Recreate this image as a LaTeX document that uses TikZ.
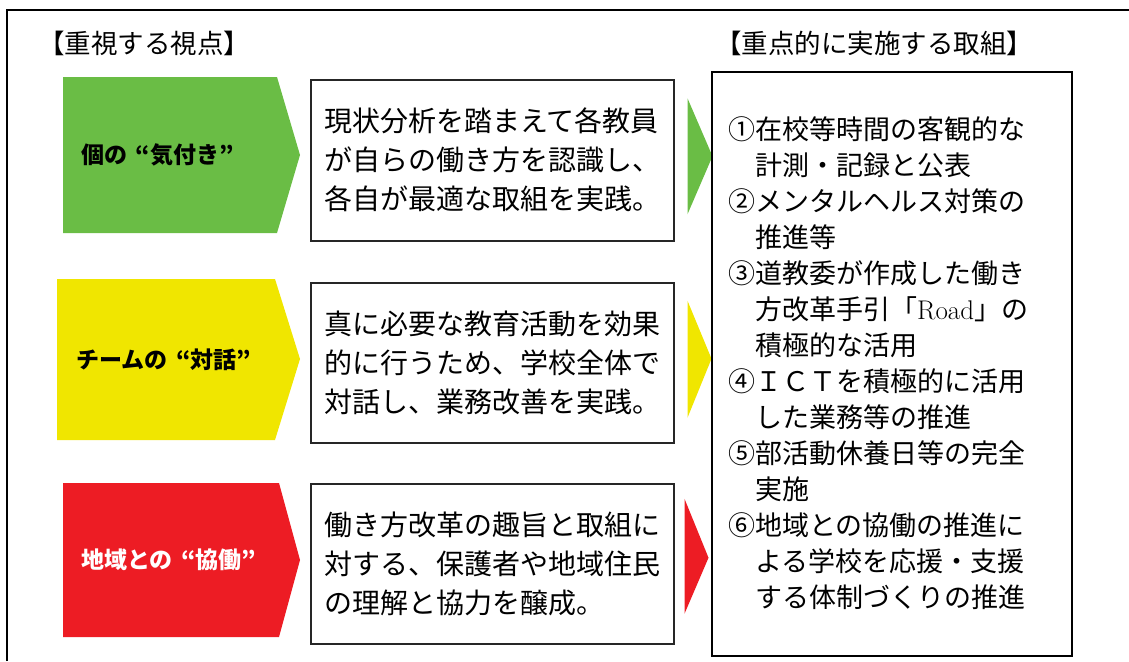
\documentclass[tikz,border=0pt]{standalone}
\usepackage{fontspec}
\newfontfamily\jp{Noto Sans CJK JP}
\usetikzlibrary{positioning}
\definecolor{kgreen}{RGB}{106,189,69}
\definecolor{kyellow}{RGB}{240,230,0}
\definecolor{kred}{RGB}{237,28,36}
\newcommand{\kql}{\makebox[1em][r]{“}}
\newcommand{\kqr}{\makebox[1em][l]{”}}
\tikzset{ebox/.style={draw=black!85,line width=1.5pt,anchor=north west,inner sep=0pt,
    minimum width=363pt,minimum height=161pt,align=left,font=\jp\fontsize{28}{39}\selectfont}}
\tikzset{elabel/.style={font=\jp\bfseries\fontsize{23}{26}\selectfont}}
\tikzset{etitle/.style={anchor=west,inner sep=0pt,font=\jp\fontsize{26.5}{30}\selectfont}}

\begin{document}
\begin{tikzpicture}[x=1pt,y=-1pt]
    \useasboundingbox (0,0) rectangle (1129,661);
    \draw[line width=1.5pt] (7,661) -- (7,10) -- (1129,10);
    \node[etitle] (t1) at (38,43) {【重視する視点】};
    \node[etitle] (t2) at (715,43) {【重点的に実施する取組】};
    % pentagons
    \fill[kgreen] (63,77) -- (277,77) -- (300,155) -- (277,233) -- (63,233) -- cycle;
    \fill[kyellow] (57,279) -- (275,279) -- (300,359) -- (275,440) -- (57,440) -- cycle;
    \fill[kred] (63,483) -- (279,483) -- (300,560) -- (279,637) -- (63,637) -- cycle;
    \node[elabel] (l1) at (162,155) {個の\kql 気付き\kqr};
    \node[elabel] (l2) at (168,360) {チームの\kql 対話\kqr};
    \node[elabel,text=white] (l3) at (173,560) {地域との\kql 協働\kqr};
    % boxes
    \node[ebox] (b1) at (310,79) {現状分析を踏まえて各教員\\が自らの働き方を認識し、\\各自が最適な取組を実践。};
    \node[ebox,minimum height=160pt] (b2) at (310,282) {真に必要な教育活動を効果\\的に行うため、学校全体で\\対話し、業務改善を実践。};
    \node[ebox,minimum height=160pt] (b3) at (310,483) {働き方改革の趣旨と取組に\\対する、保護者や地域住民\\の理解と協力を醸成。};
    \fill[kgreen] ([xshift=13pt,yshift=62pt]b1.east) -- ([xshift=38pt,yshift=4pt]b1.east) -- ([xshift=13pt,yshift=-54pt]b1.east) -- cycle;
    \fill[kyellow] ([xshift=13pt,yshift=62pt]b2.east) -- ([xshift=37pt,yshift=4pt]b2.east) -- ([xshift=13pt,yshift=-55pt]b2.east) -- cycle;
    \fill[kred] ([xshift=10pt,yshift=65pt]b3.east) -- ([xshift=34pt,yshift=6pt]b3.east) -- ([xshift=10pt,yshift=-50pt]b3.east) -- cycle;
    % right box
    \node[draw,line width=1.5pt,anchor=north west,inner sep=0pt,minimum width=360pt,minimum height=584pt] (big) at (711,71) {};
    \node[anchor=north west,inner sep=0pt,align=left,font=\jp\fontsize{27}{36}\selectfont] (list) at (728,116)
        {①在校等時間の客観的な\\　計測・記録と公表\\②メンタルヘルス対策の\\　推進等\\③道教委が作成した働き\\　方改革手引「{\rmfamily Road}」の\\　積極的な活用\\④ＩＣＴを積極的に活用\\　した業務等の推進\\⑤部活動休養日等の完全\\　実施\\⑥地域との協働の推進に\\　よる学校を応援・支援\\　する体制づくりの推進};
\end{tikzpicture}
\end{document}
